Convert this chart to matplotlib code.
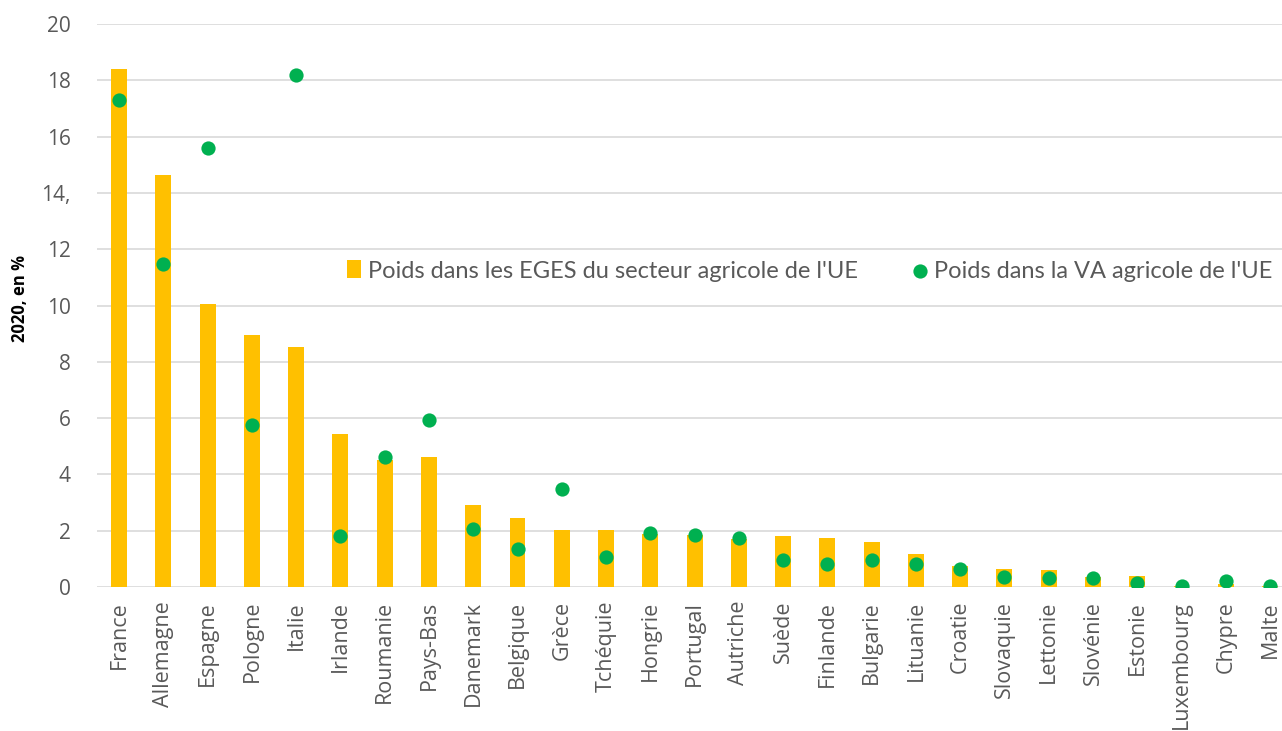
import matplotlib.pyplot as plt

plt.rcParams['font.family'] = ['Open Sans', 'DejaVu Sans']

pays = ['France', 'Allemagne', 'Espagne', 'Pologne', 'Italie', 'Irlande', 'Roumanie',
        'Pays-Bas', 'Danemark', 'Belgique', 'Grèce', 'Tchéquie', 'Hongrie', 'Portugal',
        'Autriche', 'Suède', 'Finlande', 'Bulgarie', 'Lituanie', 'Croatie', 'Slovaquie',
        'Lettonie', 'Slovénie', 'Estonie', 'Luxembourg', 'Chypre', 'Malte']

eges = [18.4, 14.65, 10.05, 8.95, 8.53, 5.43, 4.5, 4.62, 2.92, 2.45, 2.03, 2.03, 1.9,
        1.83, 1.72, 1.81, 1.74, 1.6, 1.17, 0.75, 0.65, 0.6, 0.35, 0.4, 0.05, 0.1, 0.02]

va = [17.3, 11.47, 15.6, 5.75, 18.19, 1.81, 4.62, 5.93, 2.06, 1.35, 3.48, 1.07, 1.92,
      1.85, 1.74, 0.96, 0.8, 0.96, 0.83, 0.65, 0.35, 0.33, 0.32, 0.15, 0.05, 0.2, 0.02]

yticks = [0, 2, 4, 6, 8, 10, 12, 14, 16, 18, 20]
ytick_labels = ['0', '2', '4', '6', '8', '10', '12', '14,', '16', '18', '20']

gris = '#595959'

fig = plt.figure(figsize=(12.82, 7.31), dpi=100)
ax = fig.add_axes([97 / 1282, 144 / 731, 1185 / 1282, 563 / 731])

x = range(len(pays))
barres = ax.bar(x, eges, width=0.36, color='#FFC000', zorder=2,
                label="Poids dans les EGES du secteur agricole de l'UE")
points = ax.scatter(x, va, s=105, color='#00B050', zorder=3, linewidths=0,
                    label="Poids dans la VA agricole de l'UE")

ax.set_ylim(0, 20)
ax.set_xlim(-0.5, 26.27)
ax.set_yticks(yticks)
ax.set_yticklabels(ytick_labels)
ax.set_xticks(list(x))
ax.set_xticklabels(pays, rotation=90)
ax.tick_params(axis='both', length=0, colors=gris)
ax.tick_params(axis='y', pad=19, labelsize=15)
ax.tick_params(axis='x', pad=10, labelsize=15.5)
ax.yaxis.grid(True, color='#D9D9D9', linewidth=1.2, zorder=0)
ax.set_axisbelow(True)
for s in ax.spines.values():
    s.set_visible(False)

fig.text(20 / 1282, 1 - 298 / 731, '2020, en %', rotation=90, fontsize=12,
         fontweight='bold', ha='center', va='center', color='black')

ax.legend([barres, points], [barres.get_label(), points.get_label()],
          loc='center left', bbox_to_anchor=(326 / 1282, 1 - 271 / 731),
          bbox_transform=fig.transFigure, ncol=2, frameon=False,
          prop={'family': 'Lato', 'size': 17},
          handletextpad=0.3, columnspacing=2.3, markerscale=1.0, handlelength=0.6,
          handleheight=0.8, labelcolor=gris)

fig.savefig('out.png', dpi=100, facecolor='white')
